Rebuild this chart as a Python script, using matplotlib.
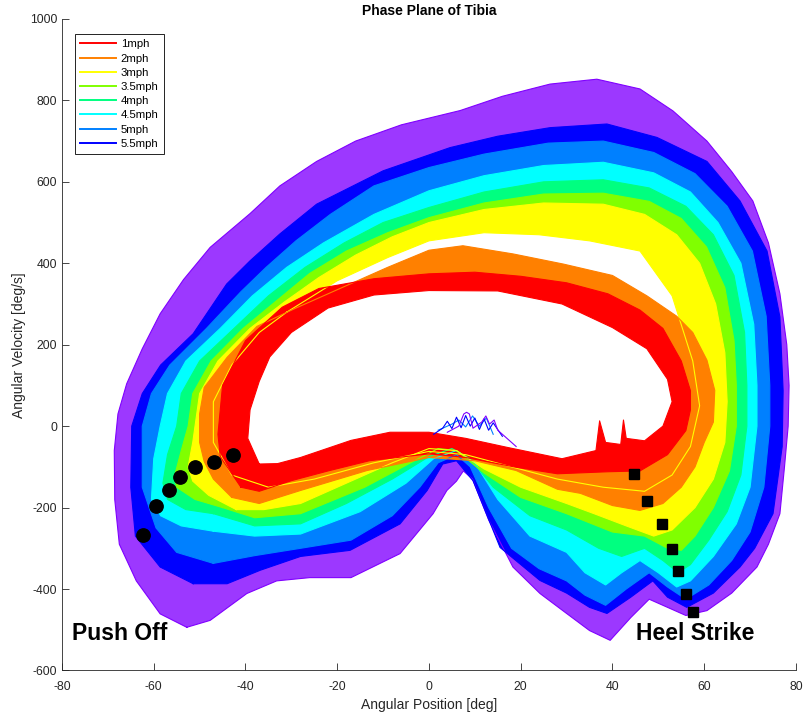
import numpy as np
import matplotlib.pyplot as plt
from matplotlib.lines import Line2D

plt.rcParams['font.family'] = ['Liberation Sans', 'DejaVu Sans']
plt.rcParams['axes.unicode_minus'] = False

# outer envelope of all strides at each speed, clockwise from push off
# (angular position [deg], angular velocity [deg/s])
v60_x = [-52.8, -58.6, -63.8, -67.5, -68.5, -68.6, -67.8, -65.9, -62.5, -58.6, -53.5, -47.7, -39, -32.5,
         -24.5, -16, -6, 6.8, 16, 26.4, 36.6, 46, 53.2, 60.6, 66, 70.6, 74, 76.5, 78, 78.5, 78.3, 77.5,
         76.5, 74, 71.5, 66, 60.6, 56, 52, 48, 44, 39.5, 35, 30, 24.2, 18.3, 13, 9.5, 7.5, 6, 3.9, 0.9,
         -6.3, -17, -26, -33.2, -39.7, -47.7]
v60_y = [-494, -461, -380, -290, -180, -60, 30, 104, 190, 276, 360, 439, 522, 590, 650, 700, 740, 775,
         810, 840, 852, 828, 774, 700, 625, 553, 450, 325, 200, 100, 0, -100, -215, -290, -346, -410,
         -453, -465, -445, -425, -470, -526, -502, -460, -411, -346, -230, -130, -110, -135, -158, -215,
         -313, -372, -372, -380, -411, -477]

v55_x = [-51.4, -58.6, -64, -65, -64.8, -62.5, -58.5, -51.4, -44.1, -39, -32.5, -24.5, -10, 4.6, 15,
         26.4, 38.8, 49.7, 60.6, 67.8, 73.7, 76.5, 77.2, 77, 75, 71, 67.8, 62, 56.2, 52, 48.8, 44, 38.8,
         35, 30, 24.2, 15.5, 9.6, 6, 3, -0.4, -6.3, -17.2, -28, -36.8, -44]
v55_y = [-387, -346, -270, -150, 0, 80, 150, 227, 349, 406, 472, 545, 627, 684, 712, 733, 742, 709, 650,
         553, 430, 268, 87, -50, -215, -300, -346, -410, -445, -420, -380, -420, -460, -445, -410, -379,
         -298, -134, -85, -93, -158, -240, -305, -320, -354, -387]

v50_x = [-47, -55, -59.5, -62.5, -62.5, -62.5, -60.5, -56.5, -48.5, -41, -35.5, -29, -21.5, -12, 0, 12,
         26, 38, 49, 58, 65, 70.5, 73.5, 74.3, 74.3, 73, 70, 66, 61, 56, 52, 48, 43, 38.5, 34, 30, 24,
         18, 13, 9, 6, 2, -2, -8, -17, -28, -38]
v50_y = [-337, -310, -250, -150, -60, 0, 80, 150, 240, 330, 390, 455, 520, 590, 635, 668, 695, 700,
         672, 620, 540, 430, 270, 100, 0, -150, -260, -330, -390, -425, -395, -360, -400, -440, -415,
         -380, -350, -300, -200, -100, -70, -90, -150, -220, -280, -300, -318]

v45_x = [-47, -54, -58.5, -60.5, -60, -58.6, -57, -53, -45.5, -38.5, -31, -23, -12, 0, 12, 25, 38, 49,
         57, 63, 68, 70.8, 71.5, 71.5, 70, 67, 62, 57, 54, 50, 46, 42, 38.5, 34, 30, 22, 15, 10, 6, 1,
         -5, -15, -28, -38]
v45_y = [-258, -245, -220, -180, -80, 0, 80, 160, 240, 320, 390, 450, 520, 578, 615, 640, 648, 622,
         575, 500, 400, 250, 100, 0, -150, -240, -320, -380, -395, -360, -330, -360, -390, -360, -310,
         -270, -180, -90, -60, -80, -140, -210, -265, -270]

v40_x = [-47, -53, -57, -58, -57, -55, -54, -50, -42.5, -35, -27, -18.5, -10, 0, 12, 25, 38, 48, 56, 62,
         66.5, 68.8, 69.3, 69.3, 68, 65, 61, 57, 54.3, 51, 47, 42, 37, 30, 22, 14, 9, 5, 0, -8, -18, -28,
         -38]
v40_y = [-215, -205, -180, -140, -70, 0, 80, 160, 240, 320, 390, 450, 500, 537, 575, 600, 605, 585,
         540, 470, 370, 230, 100, 0, -120, -210, -280, -340, -360, -330, -300, -320, -300, -255, -220,
         -150, -80, -55, -75, -130, -190, -240, -245]

v35_x = [-45, -51, -55, -55.5, -54, -52.5, -51.5, -47.5, -40.5, -33, -26, -18, -9, 0, 12, 25, 38, 48,
         55, 60.5, 64.5, 66.5, 67, 67, 65.5, 62, 58, 55, 52, 47, 40, 30, 20, 12, 6, 2, -4, -14, -28, -38]
v35_y = [-200, -180, -150, -124, -60, 0, 80, 160, 240, 310, 375, 430, 475, 512, 548, 570, 572, 552,
         510, 440, 340, 210, 100, 0, -110, -200, -270, -305, -300, -270, -260, -215, -175, -115, -60,
         -55, -90, -150, -215, -225]

v30_x = [-42, -48, -51.5, -52.5, -51.5, -51, -50, -46, -39, -31.5, -24, -16, -8, 0, 12, 25, 38, 47, 54,
         59, 62.5, 64.5, 65, 64.5, 62, 58, 53, 49, 43, 36, 30, 20, 12, 6, 0, -8, -18, -28, -36]
v30_y = [-205, -170, -135, -100, -40, 0, 80, 160, 240, 305, 365, 420, 465, 500, 532, 548, 545, 520,
         470, 400, 300, 180, 60, -40, -130, -200, -255, -270, -245, -215, -190, -150, -105, -60, -55,
         -90, -140, -190, -205]
# inner edge of the 3mph band (open gap above the 2mph loop)
v30_in_x = [-31, -20, -9, 0, 12, 24, 35, 46, 53, 57.5, 59, 57, 53, 47, 38, 28, 18, 8, 0, -12, -25, -35,
            -43, -47, -47, -43, -37]
v30_in_y = [280, 357, 414, 455, 475, 470, 455, 430, 320, 160, 50, -50, -120, -160, -150, -130, -100,
            -70, -62, -90, -130, -150, -120, -40, 60, 150, 230]

v20_x = [-43, -47, -49, -50, -50, -49, -44, -37.5, -29, -20, -9, 0, 7.4, 18.3, 29.3, 40, 47.5, 54, 57.5,
         60.6, 62.3, 62, 60, 58, 55, 51, 46, 40, 33, 28, 19, 10, 0, -13.5, -28, -37]
v20_y = [-175, -130, -87, -40, 30, 95, 169, 245, 290, 335, 390, 432, 443, 423, 398, 370, 320, 270, 230,
         162, 88, 10, -40, -100, -150, -190, -207, -195, -165, -155, -109, -85, -77, -109, -158, -190]

v10_x = [-41, -45.5, -46, -45, -40, -32, -24, -12, 0, 10, 20, 30, 39, 46, 51, 55, 57, 57, 56, 52, 46, 39,
         28, 19, 8, 0, -13, -22, -30, -37]
v10_y = [-150, -75, -20, 100, 210, 292, 338, 362, 374, 378, 368, 352, 325, 285, 240, 160, 87, 40, -11,
         -70, -110, -112, -117, -101, -77, -68, -85, -110, -134, -160]
v10_in_x = [-37, -39.5, -39, -37, -34.7, -30, -22, -12, 0, 15, 29, 40, 47.5, 52, 53, 51, 47, 43, 42.4,
            41.8, 38.5, 37.2, 36.4, 29, 17, 8, 0, -8.5, -17, -28, -33]
v10_in_y = [-93, -30, 40, 110, 170, 230, 290, 322, 333, 332, 300, 242, 190, 115, 60, 0, -36, -30, 15,
            -45, -40, 13, -60, -80, -52, -30, -15, -15, -35, -77, -92]

# mid-stance wobble of the fast strides poking above the slow loops
wob_blue_x = [1, 3, 4, 5, 6, 7, 8, 9, 10, 11, 12, 13, 14, 16]
wob_blue_y = [-20, -5, 12, -6, 22, -4, 26, 0, 20, -8, 18, -10, 8, -25]
wob_violet_x = [4, 6.5, 7.6, 8.2, 8.8, 9.6, 11.5, 12.4, 13.2, 14.2, 15, 17, 19]
wob_violet_y = [-15, 0, 30, 34, 30, -5, 10, 25, 5, 15, -10, -30, -50]
wob_azure_x = [2, 5, 6.5, 8, 9.5, 11, 12.5, 14]
wob_azure_y = [-10, 5, 15, -2, 25, 0, 20, -20]

# mean gait events
push_x = [-62.4, -59.5, -56.6, -54.3, -50.9, -46.9, -42.8]
push_y = [-268, -196, -157, -124, -101, -88, -72]
heel_x = [44.75, 47.6, 50.86, 52.97, 54.35, 55.96, 57.55]
heel_y = [-118, -183, -240, -302, -356, -412, -456]

speeds = ['6mph', '5.5mph', '5mph', '4.5mph', '4mph', '3.5mph', '3mph', '2mph', '1mph']
colors = ['#8000ff', '#0000ff', '#0080ff', '#00ffff', '#00ff80', '#80ff00', '#ffff00', '#ff8000', '#ff0000']
loops_x = [v60_x, v55_x, v50_x, v45_x, v40_x, v35_x, v30_x, v20_x, v10_x]
loops_y = [v60_y, v55_y, v50_y, v45_y, v40_y, v35_y, v30_y, v20_y, v10_y]
holes = {'3mph': (v30_in_x, v30_in_y), '1mph': (v10_in_x, v10_in_y)}


def closed(a):
    return np.append(a, a[0])


fig = plt.figure(figsize=(8.04, 7.17), dpi=100)
ax = fig.add_axes([0.0771, 0.0649, 0.9129, 0.9087])

for name, col, lx, ly in zip(speeds, colors, loops_x, loops_y):
    # the fastest strides are sparse, so that band reads lighter
    ax.fill(lx, ly, color=col, lw=0, alpha=0.78 if name == '6mph' else 1)
    ax.plot(closed(lx), closed(ly), color=col, lw=0.8)
    if name in holes:
        hx, hy = holes[name]
        ax.fill(hx, hy, color='white', lw=0)
        ax.plot(closed(hx), closed(hy), color=col, lw=0.8)

ax.plot(wob_azure_x, wob_azure_y, color='#0080ff', lw=0.8)
ax.plot(wob_blue_x, wob_blue_y, color='#0000ff', lw=0.8)
ax.plot(wob_violet_x, wob_violet_y, color='#8000ff', lw=0.8)

ax.plot(push_x, push_y, 'o', color='k', ms=9.6, ls='none')
ax.plot(heel_x, heel_y, 's', color='k', ms=7.5, ls='none')

ax.text(-77.8, -525, 'Push Off', fontsize=16.5, fontweight='bold')
ax.text(45.1, -525, 'Heel Strike', fontsize=16.5, fontweight='bold')

labels = ['1mph', '2mph', '3mph', '3.5mph', '4mph', '4.5mph', '5mph', '5.5mph']
proxies = [Line2D([], [], color=colors[speeds.index(s)], lw=1.4) for s in labels]
leg = ax.legend(proxies, labels, loc='upper left', bbox_to_anchor=(0.018, 0.9765),
                borderaxespad=0, fontsize=8.2, fancybox=False, framealpha=1, edgecolor='k',
                handlelength=3.15, handletextpad=0.4, labelspacing=0.37, borderpad=0.45)
leg.get_frame().set_linewidth(0.6)

ax.set_xlim(-80, 80)
ax.set_ylim(-600, 1000)
ax.set_xticks(np.arange(-80, 81, 20))
ax.set_yticks(np.arange(-600, 1001, 200))
ax.tick_params(direction='in', length=5, width=0.6, labelsize=8.7, colors='#262626')
ax.tick_params(axis='x', pad=7.5)
for side in ['top', 'right']:
    ax.spines[side].set_visible(False)
for side in ['left', 'bottom']:
    ax.spines[side].set_linewidth(0.6)
    ax.spines[side].set_color('#262626')

ax.set_xlabel('Angular Position [deg]', fontsize=10, color='#262626')
ax.set_ylabel('Angular Velocity [deg/s]', fontsize=10, color='#262626', labelpad=3)
ax.set_title('Phase Plane of Tibia', fontsize=10, fontweight='bold', pad=3)

fig.savefig('out.png', dpi=100)
